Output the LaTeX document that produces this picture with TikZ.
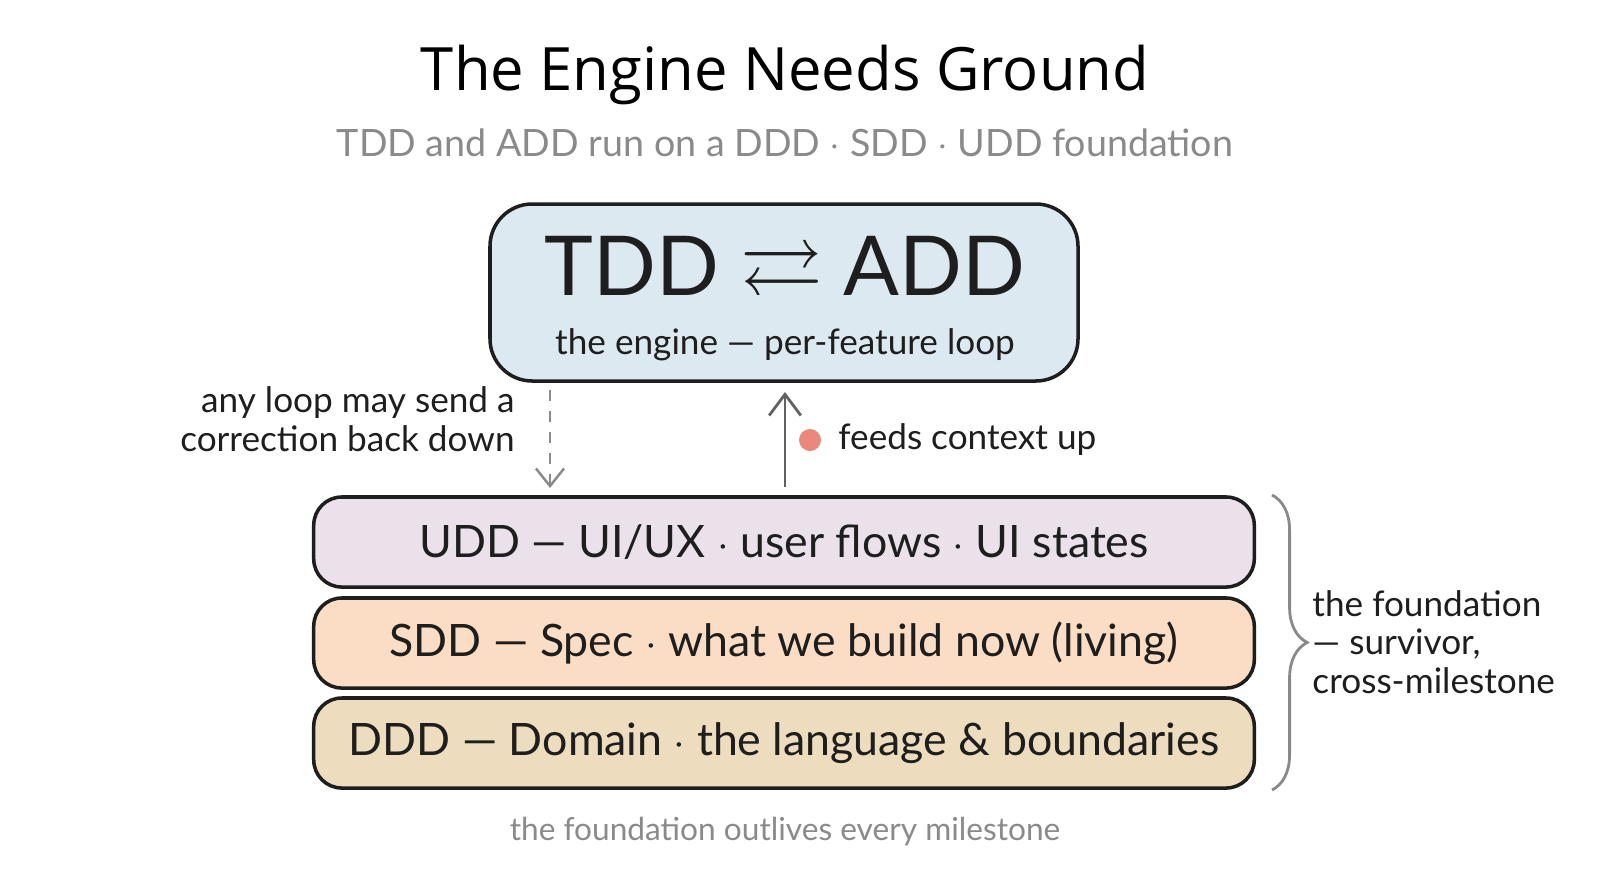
\documentclass[tikz,border=0pt]{standalone}
\usepackage{amssymb}
\usepackage{fontspec}
\setmainfont{Lato}
\newfontfamily\titlefont{Open Sans}
\usetikzlibrary{arrows.meta,decorations.pathreplacing}
\definecolor{ink}{HTML}{1E1E1E}
\definecolor{grayt}{HTML}{8A8A8A}
\definecolor{enginebg}{HTML}{DCE9F1}
\definecolor{uddbg}{HTML}{EAE1EB}
\definecolor{sddbg}{HTML}{FBDDC5}
\definecolor{dddbg}{HTML}{EDDDBE}
\definecolor{dotred}{HTML}{E8897A}
\tikzset{
  bar/.style={draw=ink, line width=1pt, rounded corners=8pt, minimum width=9.4cm, minimum height=0.9cm, font=\fontsize{12.7}{15}\selectfont, text=ink},
  lbl/.style={font=\fontsize{10}{12}\selectfont, text=ink, align=left}
}
\begin{document}
\begin{tikzpicture}[x=0.01cm,y=-0.01cm]
\useasboundingbox[fill=white] (0,0) rectangle (1600,893);
\node (title) at (785,75) {\titlefont\fontsize{17}{20}\selectfont The Engine Needs Ground};
\node[text=grayt] (sub) at (785,143) {\fontsize{10.7}{13}\selectfont TDD and ADD run on a DDD $\cdot$ SDD $\cdot$ UDD foundation};
\draw[draw=ink, fill=enginebg, line width=1pt, rounded corners=12pt] (490,204) rectangle (1078,381);
\node[text=ink] (eng) at (785,273) {\fontsize{23.5}{27}\selectfont TDD $\rightleftarrows$ ADD};
\node[text=ink] (engsub) at (785,345) {\fontsize{10}{12}\selectfont the engine --- per-feature loop};
\node[bar, fill=uddbg] (udd) at (784,542) {UDD --- UI/UX $\cdot$ user flows $\cdot$ UI states};
\node[bar, fill=sddbg] (sdd) at (784,643) {SDD --- Spec $\cdot$ what we build now (living)};
\node[bar, fill=dddbg] (ddd) at (784,743) {DDD --- Domain $\cdot$ the language \& boundaries};
\coordinate (dtop) at (550,390);
\coordinate (dbot) at (550,488);
\coordinate (ustart) at (785,487);
\coordinate (uend) at (785,392);
\draw[grayt, dashed, line width=0.7pt, -{Straight Barb[length=5pt,width=8pt]}] (dtop) -- (dbot);
\draw[grayt!70!black, line width=0.8pt, -{Straight Barb[length=6pt,width=9pt]}] (ustart) -- (uend);
\node[lbl, align=right, anchor=east] (loop) at (527,419) {any loop may send a\\[-1pt]correction back down};
\fill[dotred] (810,440) circle (11);
\node[lbl, anchor=west] (feeds) at (826,440) {feeds context up};
\draw[grayt, line width=0.8pt, decorate, decoration={brace, amplitude=10pt}] (1272,495) -- (1272,790);
\node[lbl, anchor=west] (found) at (1300,642) {the foundation\\[-1pt]--- survivor,\\[-1pt]cross-milestone};
\node[text=grayt] (foot) at (785,832) {\fontsize{9}{11}\selectfont the foundation outlives every milestone};
\end{tikzpicture}
\end{document}
